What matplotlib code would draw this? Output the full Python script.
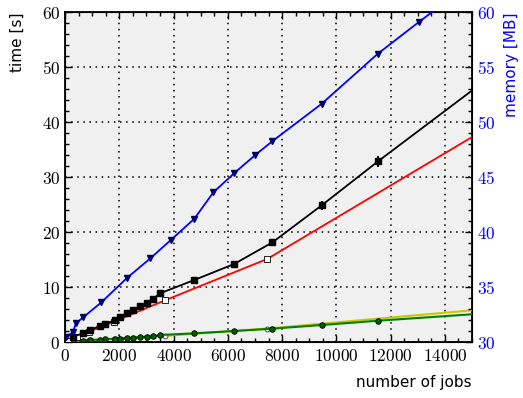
import matplotlib
matplotlib.use('Agg')
import matplotlib.pyplot as plt
from matplotlib.ticker import MultipleLocator, FuncFormatter

# Data
jobs_a = [284, 674, 921, 1290, 1474, 1843, 2027, 2274, 2517, 2764, 3011, 3232, 3501,
          4765, 6240, 7640, 9461, 11536, 16500]
time_black = [0.96, 1.58, 2.18, 2.91, 3.27, 4.0, 4.6, 5.2, 5.8, 6.55, 7.04, 7.76, 8.85,
              11.27, 14.2, 18.1, 24.85, 32.85, 51.3]
time_black_err = [0.1, 0.1, 0.1, 0.1, 0.1, 0.1, 0.1, 0.1, 0.1, 0.1, 0.15, 0.15, 0.2,
                  0.25, 0.3, 0.4, 0.8, 1.0, 1.0]
time_green = [0.24, 0.26, 0.35, 0.45, 0.5, 0.58, 0.63, 0.7, 0.78, 0.9, 0.96, 1.05, 1.27,
              1.58, 2.0, 2.42, 3.09, 3.87, 5.55]

jobs_b = [100, 431, 873, 1806, 3674, 7456, 16000]
time_red = [0.2, 0.85, 1.87, 3.7, 7.55, 15.1, 40.2]
time_yellow = [0.05, 0.18, 0.3, 0.6, 1.1, 2.45, 6.2]

jobs_mem = [37, 284, 405, 674, 1338, 2274, 3144, 3899, 4765, 5466, 6240, 7013, 7640,
            9461, 11525, 13047, 13800]
memory = [30.45, 30.88, 31.7, 32.25, 33.6, 35.8, 37.6, 39.27, 41.2, 43.6, 45.36, 47.0,
          48.25, 51.66, 56.2, 59.1, 60.5]

plt.rcParams['mathtext.fontset'] = 'cm'

fig = plt.figure(figsize=(5.23, 3.98), dpi=100)
ax = fig.add_axes([0.1243, 0.1407, 0.7782, 0.8291])
ax.set_facecolor('#f0f0f0')

# We draw the time curves on the left axis
ax.plot(jobs_b, time_yellow, color='#c8c800', lw=1.5, marker='o', ms=3.5,
        mfc='white', mec='#333333', mew=0.6, zorder=3)
ax.plot(jobs_a, time_green, color='#008000', lw=1.5, marker='o', ms=4,
        mfc='#006000', mec='black', mew=0.6, zorder=4)
ax.plot(jobs_b, time_red, color='red', lw=1.3, marker='s', ms=4,
        mfc='white', mec='black', mew=0.6, zorder=4)
ax.errorbar(jobs_a, time_black, yerr=time_black_err, color='black', lw=1.3,
            marker='s', ms=4, elinewidth=1.3, capsize=0, zorder=5)

ax.set_xlim(0, 15000)
ax.set_ylim(0, 60)
ax.xaxis.set_major_locator(MultipleLocator(2000))
ax.xaxis.set_minor_locator(MultipleLocator(500))
ax.yaxis.set_major_locator(MultipleLocator(10))
ax.yaxis.set_minor_locator(MultipleLocator(2))
fmt = FuncFormatter(lambda v, p: r'$%d$' % v)
ax.xaxis.set_major_formatter(fmt)
ax.yaxis.set_major_formatter(fmt)
ax.tick_params(which='both', direction='in', top=True, labelsize=12.5)
ax.tick_params(which='major', length=5, width=1)
ax.tick_params(which='minor', length=3, width=1)
ax.grid(True, which='major', color='black', linestyle=(0, (1, 3)), linewidth=1.1)
ax.set_axisbelow(True)
for s in ax.spines.values():
    s.set_linewidth(1.3)

ax.set_ylabel('time [s]', fontsize=11, loc='top', labelpad=12)
ax.set_xlabel('number of jobs', fontsize=11, loc='right')
ax.xaxis.set_label_coords(1.0, -0.10)

# Memory goes on a second axis at the right
ax2 = ax.twinx()
ax2.plot(jobs_mem, memory, color='blue', lw=1.3, marker='v', ms=4.5,
         mfc='#000080', mec='#000060', zorder=5)
ax2.set_ylim(30, 60)
ax2.yaxis.set_major_locator(MultipleLocator(5))
ax2.yaxis.set_minor_locator(MultipleLocator(1))
ax2.yaxis.set_major_formatter(fmt)
ax2.tick_params(which='both', direction='in', labelsize=12.5, labelcolor='blue')
ax2.tick_params(which='major', length=5, width=1)
ax2.tick_params(which='minor', length=3, width=1)
ax2.set_ylabel('memory [MB]', fontsize=11, color='blue', loc='top', labelpad=6)

plt.savefig('out.png', dpi=100)
